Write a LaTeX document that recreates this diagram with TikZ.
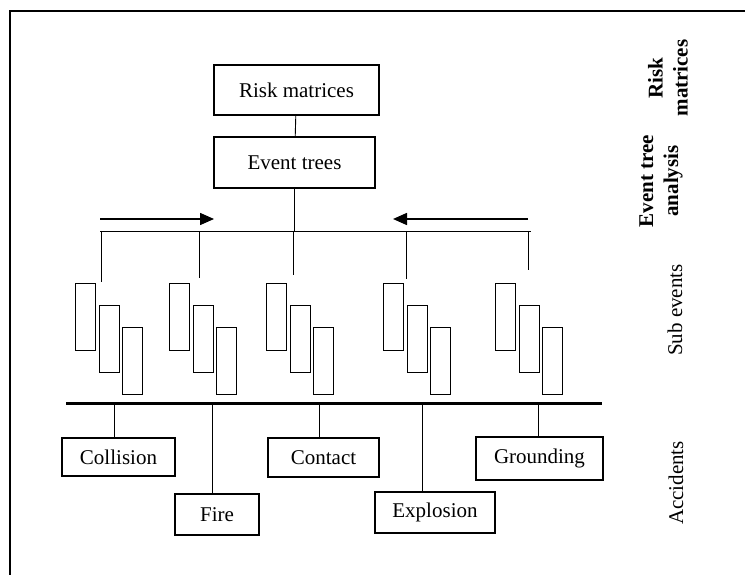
\documentclass[tikz,border=0pt]{standalone}
\usepackage{fontspec}
\setmainfont{Liberation Serif}
\usetikzlibrary{arrows.meta,positioning}

\begin{document}
\begin{tikzpicture}[x=1pt,y=-1pt,
    box/.style={draw,line width=1.2pt,inner sep=0pt,font=\fontsize{21}{23}\selectfont},
    subbox/.style={draw,line width=1.2pt,minimum width=20pt,minimum height=67pt,inner sep=0pt,anchor=north west},
    side/.style={rotate=90,align=center,font=\fontsize{21}{25}\selectfont},
    link/.style={line width=0.9pt},
    flow/.style={line width=1.6pt,-{Triangle[length=14pt,width=12pt]}}]

      \useasboundingbox (0,0) rectangle (745,575);

      % draw the frame
      \coordinate (frame bottom) at (10,575);
      \coordinate (frame corner) at (10,11);
      \coordinate (frame right) at (745,11);
      \draw [line width=1.2pt] (frame bottom) -- (frame corner) -- (frame right);

      % draw the top boxes
      \node [box,minimum width=165pt,minimum height=50pt] (risk) at (296.5,90) {Risk matrices};
      \node [box,minimum width=161pt,minimum height=51pt] (event) at (294.5,162.5) {Event trees};
      \draw [link] (risk) -- (event);

      % draw the branches of the tree
      \coordinate (bus west) at (100,231);
      \coordinate (bus east) at (531,231);
      \draw [link] (bus west) -- (bus east);
      \draw [link] (event.south) -- (event.south |- bus west);
      \foreach \x/\y [count=\i] in {101/282,199/278,293/275,406/279,528/270}
      {
        \coordinate (drop top\i) at (\x,231);
        \coordinate (drop end\i) at (\x,\y);
        \draw [link] (drop top\i) -- (drop end\i);
      }

      % draw the arrows
      \coordinate (right from) at (100,219);
      \coordinate (right to) at (214,219);
      \coordinate (left from) at (528,219);
      \coordinate (left to) at (393,219);
      \draw [flow] (right from) -- (right to);
      \draw [flow] (left from) -- (left to);

      % draw the sub events
      \foreach \gx [count=\gi] in {75,169,266,383,495}
        \foreach \k in {0,1,2}
          \node [subbox] (sub\gi\k) at ({\gx+23.5*\k},{283+22*\k}) {};

      % draw the accidents
      \coordinate (base west) at (66,403);
      \coordinate (base east) at (602,403);
      \draw [line width=3pt] (base west) -- (base east);

      \node [box,minimum width=113pt,minimum height=38pt] (coll) at (118.5,457) {Collision};
      \node [box,minimum width=84pt,minimum height=41pt] (fire) at (217,514.5) {Fire};
      \node [box,minimum width=111pt,minimum height=39pt] (cont) at (323.5,457.5) {Contact};
      \node [box,minimum width=120pt,minimum height=41pt] (expl) at (435,512.5) {Explosion};
      \node [box,minimum width=127pt,minimum height=43pt] (grnd) at (539.5,458.5) {Grounding};

      \foreach \x/\n in {114/coll,212/fire,319/cont,422/expl,538/grnd}
      {
        \coordinate (a\n) at (\x,403);
        \draw [link] (a\n) -- (a\n |- \n.north);
      }

      % label the levels
      \node [side,font=\fontsize{21}{25}\selectfont\bfseries] (lvl risk) at (668,78) {Risk\\matrices};
      \node [side,font=\fontsize{21}{25}\selectfont\bfseries] (lvl event) at (661,181) {Event tree\\analysis};
      \node [side] (lvl sub) at (675,310) {Sub events};
      \node [side] (lvl acc) at (676,483) {Accidents};

\end{tikzpicture}
\end{document}
